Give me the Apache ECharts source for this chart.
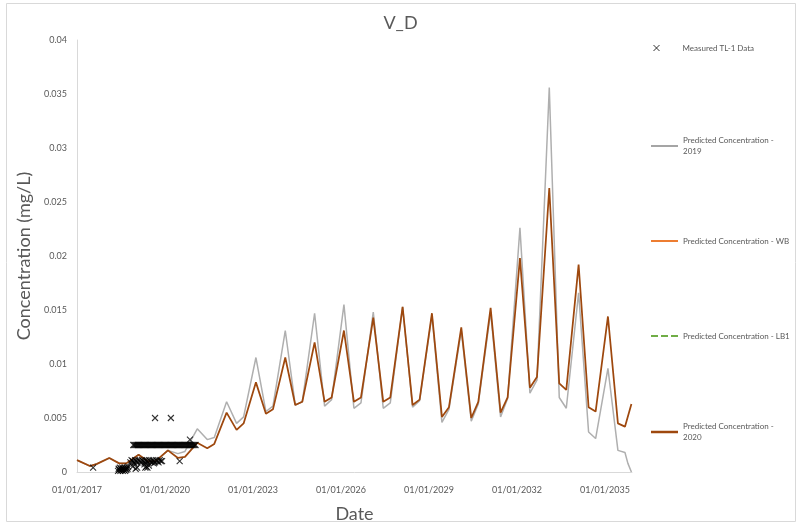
<!DOCTYPE html>
<html>
<head>
<meta charset="utf-8">
<script src="https://cdn.jsdelivr.net/npm/echarts@6/dist/echarts.min.js"></script>
<style>
html,body{margin:0;padding:0;background:#fff;}
#main{width:801px;height:529px;}
</style>
</head>
<body>
<div id="main"></div>
<script>
// ---- data (x = decimal year) ----
const xTickYears = [2017, 2020, 2023, 2026, 2029, 2032, 2035];

const pred2020Dates = [2017.0,2017.44,2017.68,2018.1,2018.44,2018.68,2019.1,2019.44,2019.68,2020.1,2020.44,2020.68,2021.1,2021.44,2021.68,2022.1,2022.44,2022.68,2023.1,2023.44,2023.68,2024.1,2024.44,2024.68,2025.1,2025.44,2025.68,2026.1,2026.44,2026.68,2027.1,2027.44,2027.68,2028.1,2028.44,2028.68,2029.1,2029.44,2029.68,2030.1,2030.44,2030.68,2031.1,2031.44,2031.68,2032.1,2032.44,2032.68,2033.1,2033.44,2033.68,2034.1,2034.44,2034.68,2035.1,2035.44,2035.68,2035.9];
const pred2020Values = [0.0011,0.00055,0.00075,0.0013,0.0008,0.0008,0.0016,0.00095,0.001,0.002,0.0013,0.0014,0.0027,0.0022,0.0026,0.0055,0.0039,0.0045,0.0083,0.0054,0.0058,0.0106,0.0062,0.0065,0.012,0.0065,0.0069,0.0131,0.0065,0.0069,0.0143,0.0065,0.0069,0.0153,0.0062,0.0067,0.0147,0.0051,0.006,0.0134,0.005,0.0065,0.0152,0.0055,0.0069,0.0198,0.0078,0.0088,0.0263,0.0082,0.0076,0.0192,0.006,0.0056,0.0144,0.0045,0.0042,0.0063];

const pred2019Dates = [2017.0,2017.44,2017.68,2018.1,2018.44,2018.68,2019.1,2019.44,2019.68,2020.1,2020.44,2020.68,2021.1,2021.44,2021.68,2022.1,2022.44,2022.68,2023.1,2023.44,2023.68,2024.1,2024.44,2024.68,2025.1,2025.44,2025.68,2026.1,2026.44,2026.68,2027.1,2027.44,2027.68,2028.1,2028.44,2028.68,2029.1,2029.44,2029.68,2030.1,2030.44,2030.68,2031.1,2031.44,2031.68,2032.1,2032.44,2032.68,2033.1,2033.44,2033.68,2034.1,2034.44,2034.68,2035.1,2035.44,2035.68,2035.78,2035.9];
const pred2019Values = [0.0011,0.00055,0.00075,0.0013,0.0008,0.0008,0.0016,0.00095,0.001,0.002,0.0017,0.0019,0.004,0.003,0.0032,0.0065,0.0045,0.0051,0.0106,0.0056,0.0061,0.0131,0.0062,0.0065,0.0147,0.0061,0.0067,0.0155,0.0059,0.0064,0.0148,0.0059,0.0064,0.0153,0.006,0.0066,0.0145,0.0046,0.0058,0.0131,0.0047,0.0063,0.0148,0.0051,0.0068,0.0226,0.0073,0.0085,0.0356,0.0069,0.0059,0.0166,0.0037,0.0031,0.0096,0.002,0.0018,0.0008,0.0];

const predWBDates = [];
const predWBValues = [];
const predLB1Dates = [];
const predLB1Values = [];

const measuredDates = [
  2017.55,
  2018.40,2018.42,2018.44,2018.46,2018.48,2018.50,2018.52,2018.54,2018.56,2018.58,2018.60,2018.62,2018.64,2018.66,2018.68,2018.70,2018.72,2018.74,
  2018.90,2018.95,2019.00,2019.05,2019.30,2019.33,2019.36,2019.40,2019.45,2019.62,
  2018.82,2018.86,2018.90,2018.94,2018.98,2019.02,2019.06,2019.10,2019.14,2019.18,2019.22,2019.26,2019.30,2019.34,2019.38,2019.42,2019.46,2019.50,2019.54,2019.58,2019.62,2019.66,2019.70,2019.74,2019.78,2019.82,2019.86,2019.90,2020.50,
  2018.92,2018.96,2019.00,2019.04,2019.08,2019.12,2019.16,2019.20,2019.24,2019.28,2019.32,2019.36,2019.40,2019.44,2019.48,2019.52,2019.56,2019.60,2019.64,2019.68,2019.72,2019.76,2019.80,2019.84,2019.88,2019.92,2019.96,2020.00,2020.04,2020.08,2020.12,2020.16,2020.20,2020.24,2020.28,2020.32,2020.36,2020.40,2020.44,2020.48,2020.52,2020.56,2020.60,2020.64,2020.68,2020.72,2020.76,2020.80,2020.84,2020.88,2020.92,2020.96,2021.00,2021.04,
  2019.66,2020.20,2020.85];
const measuredValues = [
  0.0004,
  0.0001,0.0003,0.0002,0.0004,0.0001,0.0003,0.0002,0.0004,0.0001,0.0003,0.0002,0.0004,0.0001,0.0003,0.0002,0.0004,0.0003,0.0005,
  0.0005,0.0008,0.0003,0.0004,0.0007,0.0004,0.0005,0.0004,0.0006,0.0008,
  0.0009,0.0011,0.001,0.0009,0.0011,0.001,0.0009,0.0011,0.001,0.0009,0.0011,0.001,0.0009,0.0011,0.001,0.0009,0.0011,0.001,0.0009,0.0011,0.001,0.0009,0.0011,0.001,0.0009,0.0011,0.001,0.001,0.001,
  0.0025,0.0025,0.0025,0.0025,0.0025,0.0025,0.0025,0.0025,0.0025,0.0025,0.0025,0.0025,0.0025,0.0025,0.0025,0.0025,0.0025,0.0025,0.0025,0.0025,0.0025,0.0025,0.0025,0.0025,0.0025,0.0025,0.0025,0.0025,0.0025,0.0025,0.0025,0.0025,0.0025,0.0025,0.0025,0.0025,0.0025,0.0025,0.0025,0.0025,0.0025,0.0025,0.0025,0.0025,0.0025,0.0025,0.0025,0.0025,0.0025,0.0025,0.0025,0.0025,0.0025,0.0025,
  0.005,0.005,0.003];

const NAMES = ['Measured TL-1 Data','Predicted Concentration - 2019','Predicted Concentration - WB','Predicted Concentration - LB1','Predicted Concentration - 2020'];

function zip(a,b){ return a.map((x,i)=>[x,b[i]]); }

const FONT = 'Lato, "Open Sans", sans-serif';
const TXT = '#595959';

const chart = echarts.init(document.getElementById('main'), null, {renderer:'canvas'});

const legendBase = {orient:'vertical', left:651, padding:0, itemWidth:27, itemHeight:2, selectedMode:false,
  icon:'rect', textStyle:{fontFamily:FONT, fontSize:8, color:TXT}};

chart.setOption({
  animation:false,
  backgroundColor:'#fff',
  title:{text:'V_D', left:'center', top:9, textStyle:{fontFamily:FONT, fontSize:18, fontWeight:'normal', color:TXT}},
  graphic:[{type:'rect', shape:{x:6.5,y:3.5,width:789,height:518}, style:{fill:'none', stroke:'#d9d9d9', lineWidth:1}, silent:true}],
  legend:[
    {orient:'vertical', padding:0, selectedMode:false, data:[NAMES[0]], top:44, left:653, itemWidth:6, itemHeight:6,
      icon:'path://M0,0L10,10M10,0L0,10', itemStyle:{color:'rgba(0,0,0,0)', borderColor:'#000', borderWidth:1},
      textStyle:{fontFamily:FONT, fontSize:8, color:TXT, padding:[0,0,0,18]}},
    Object.assign({}, legendBase, {data:[NAMES[1]], top:129.5, formatter:function(){return 'Predicted Concentration -\n2019';},
      textStyle:{fontFamily:FONT, fontSize:8, color:TXT, lineHeight:11, padding:[11,0,0,0]}}),
    Object.assign({}, legendBase, {data:[NAMES[2]], top:237}),
    Object.assign({}, legendBase, {data:[NAMES[3]], top:332, icon:'path://M0,0h7v2h-7zM10,0h7v2h-7zM20,0h7v2h-7z'}),
    Object.assign({}, legendBase, {data:[NAMES[4]], top:415.5, itemHeight:2.5, formatter:function(){return 'Predicted Concentration -\n2020';},
      textStyle:{fontFamily:FONT, fontSize:8, color:TXT, lineHeight:11, padding:[11,0,0,0]}})
  ],
  grid:{left:77, right:169, top:40, bottom:57, containLabel:false},
  xAxis:{
    type:'value', min:2017, max:2035.92, interval:3,
    name:'Date', nameLocation:'middle', nameGap:33,
    nameTextStyle:{fontFamily:FONT, fontSize:18, color:TXT},
    axisLine:{show:true, lineStyle:{color:'#d9d9d9', width:1}},
    axisTick:{show:false}, splitLine:{show:false},
    axisLabel:{fontFamily:FONT, fontSize:9, color:TXT, margin:14, showMaxLabel:false,
      formatter:function(v){ return xTickYears.indexOf(Math.round(v*1000)/1000)>=0 ? '01/01/'+v : ''; }}
  },
  yAxis:{
    type:'value', min:0, max:0.04, interval:0.005,
    name:'Concentration (mg/L)', nameLocation:'middle', nameGap:38, nameRotate:90,
    nameTextStyle:{fontFamily:FONT, fontSize:18, color:TXT},
    axisLine:{show:true, lineStyle:{color:'#d9d9d9', width:1}},
    axisTick:{show:false}, splitLine:{show:false},
    axisLabel:{fontFamily:FONT, fontSize:9, color:TXT, margin:10}
  },
  series:[
    {name:NAMES[0], type:'scatter', data:zip(measuredDates, measuredValues), z:5,
      symbol:'path://M0,0L10,10M10,0L0,10', symbolSize:6, symbolKeepAspect:true,
      itemStyle:{color:'rgba(0,0,0,0)', borderColor:'#000', borderWidth:1.1}},
    {name:NAMES[1], type:'line', data:zip(pred2019Dates, pred2019Values), symbol:'none', z:2,
      lineStyle:{color:'#afafaf', width:1.5}, itemStyle:{color:'#a5a5a5'}},
    {name:NAMES[2], type:'line', data:zip(predWBDates, predWBValues), symbol:'none', z:3,
      lineStyle:{color:'#ed7d31', width:1.5}, itemStyle:{color:'#ed7d31'}},
    {name:NAMES[3], type:'line', data:zip(predLB1Dates, predLB1Values), symbol:'none', z:3,
      lineStyle:{color:'#70ad47', width:1.5, type:[4,3]}, itemStyle:{color:'#70ad47'}},
    {name:NAMES[4], type:'line', data:zip(pred2020Dates, pred2020Values), symbol:'none', z:4,
      lineStyle:{color:'#9e480e', width:1.75}, itemStyle:{color:'#9e480e'}}
  ]
});
</script>
</body>
</html>
